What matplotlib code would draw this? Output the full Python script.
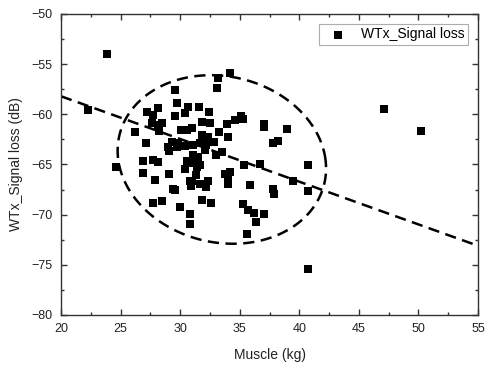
import matplotlib
matplotlib.use("Agg")
import matplotlib.pyplot as plt
import numpy as np

plt.rcParams['font.family'] = ['Liberation Sans', 'DejaVu Sans']

# ===== Data =====
muscle = [23.9, 22.3, 24.6, 29.6, 29.7, 29.6, 34.2, 33.2, 33.1, 26.2,
          27.1, 27.2, 27.7, 28.1, 27.6, 28.1, 28.5, 28.2, 30.4, 30.7,
          31.6, 32.4, 31.8, 32.5, 30.1, 30.6, 31.0, 31.8, 32.3, 29.3,
          29.0, 29.7, 29.8, 30.4, 29.1, 31.1, 31.7, 32.1, 31.1, 31.5,
          31.0, 31.7, 30.6, 31.4, 30.4, 32.2, 32.8, 33.0, 33.5, 33.3,
          34.0, 33.9, 34.6, 35.3, 37.0, 37.0, 39.0, 37.8, 38.2, 35.4,
          36.7, 40.7, 47.1, 50.2, 40.7, 40.7, 39.5, 37.8, 37.9, 35.9,
          35.3, 35.7, 36.2, 37.0, 36.4, 35.6, 26.9, 27.7, 28.1, 26.9,
          27.9, 29.1, 29.4, 29.6, 27.7, 28.5, 30.0, 30.8, 30.8, 30.9,
          31.7, 31.0, 32.3, 31.3, 31.8, 32.6, 32.2, 34.0, 33.8, 34.2,
          34.0, 30.8, 35.1]
signal_loss = [-54.0, -59.6, -65.3, -57.6, -58.9, -60.2, -55.9, -56.4, -57.4, -61.8,
               -62.9, -59.8, -60.1, -59.4, -60.9, -61.1, -60.9, -61.7, -59.9, -59.3,
               -59.3, -59.8, -60.8, -60.9, -61.6, -61.6, -61.4, -62.1, -62.3, -62.8,
               -63.3, -63.3, -62.9, -63.2, -63.7, -63.1, -62.9, -63.6, -64.1, -64.3,
               -64.9, -65.1, -64.7, -65.3, -65.4, -63.1, -62.8, -64.1, -63.8, -61.8,
               -62.3, -61.0, -60.6, -60.5, -61.0, -61.3, -61.5, -62.9, -62.7, -65.1,
               -65.0, -65.1, -59.5, -61.7, -75.4, -67.6, -66.6, -67.4, -67.9, -67.0,
               -68.9, -69.5, -69.8, -69.9, -70.7, -71.9, -64.7, -64.6, -64.8, -65.8,
               -66.5, -65.9, -67.4, -67.5, -68.8, -68.6, -69.2, -69.9, -70.9, -67.1,
               -66.9, -66.6, -66.6, -66.0, -68.5, -68.8, -67.2, -66.9, -65.9, -65.7,
               -66.4, -66.6, -60.2]

# dashed trend line end points
trend_x = [20, 55]
trend_y = [-58.2, -73.1]

# ===== Plot =====
fig = plt.figure(figsize=(4.9, 3.67), dpi=100)
ax = fig.add_axes([0.1245, 0.1417, 0.851, 0.8202])

ax.scatter(muscle, signal_loss, marker='s', s=26, color='black',
           linewidths=0, label='WTx_Signal loss', zorder=3)

ax.plot(trend_x, trend_y, color='black', linestyle=(0, (4.5, 2.6)), linewidth=1.8)

# dashed ellipse around the cluster (slightly tilted)
t = np.linspace(0, 2 * np.pi, 400)
cx, cy, a, b, shear = 33.5, -64.5, 8.7, 8.4, 0.11
ex = cx + a * np.cos(t) - shear * b * np.sin(t)
ey = cy + b * np.sin(t)
ax.plot(ex, ey, color='black', linestyle=(0, (4.5, 2.6)), linewidth=1.8)

ax.set_xlim(20, 55)
ax.set_ylim(-80, -50)
ax.set_xticks(np.arange(20, 56, 5))
ax.set_yticks(np.arange(-80, -49, 5))
ax.set_xticks(np.arange(22.5, 55, 5), minor=True)
ax.set_yticks(np.arange(-77.5, -50, 5), minor=True)

ax.tick_params(which='both', direction='in', top=True, right=True,
               color='#333333', labelsize=9, labelcolor='#222222')
ax.tick_params(which='major', length=4, width=1)
ax.tick_params(which='minor', length=2.5, width=1)
ax.tick_params(axis='y', pad=6)
ax.tick_params(axis='x', pad=6)
for sp in ax.spines.values():
    sp.set_color('#333333')
    sp.set_linewidth(1)

ax.set_xlabel("Muscle (kg)", fontsize=10, color='#222222', labelpad=9)
ax.set_ylabel("WTx_Signal loss (dB)", fontsize=10, color='#222222', labelpad=6)

leg = ax.legend(loc='upper right', fontsize=10, frameon=True, fancybox=False,
                borderpad=0.25, handletextpad=0.6, borderaxespad=0.7,
                handlelength=2.2)
leg.get_frame().set_edgecolor('#999999')
leg.get_frame().set_linewidth(0.8)

fig.savefig("out.png", dpi=100)
